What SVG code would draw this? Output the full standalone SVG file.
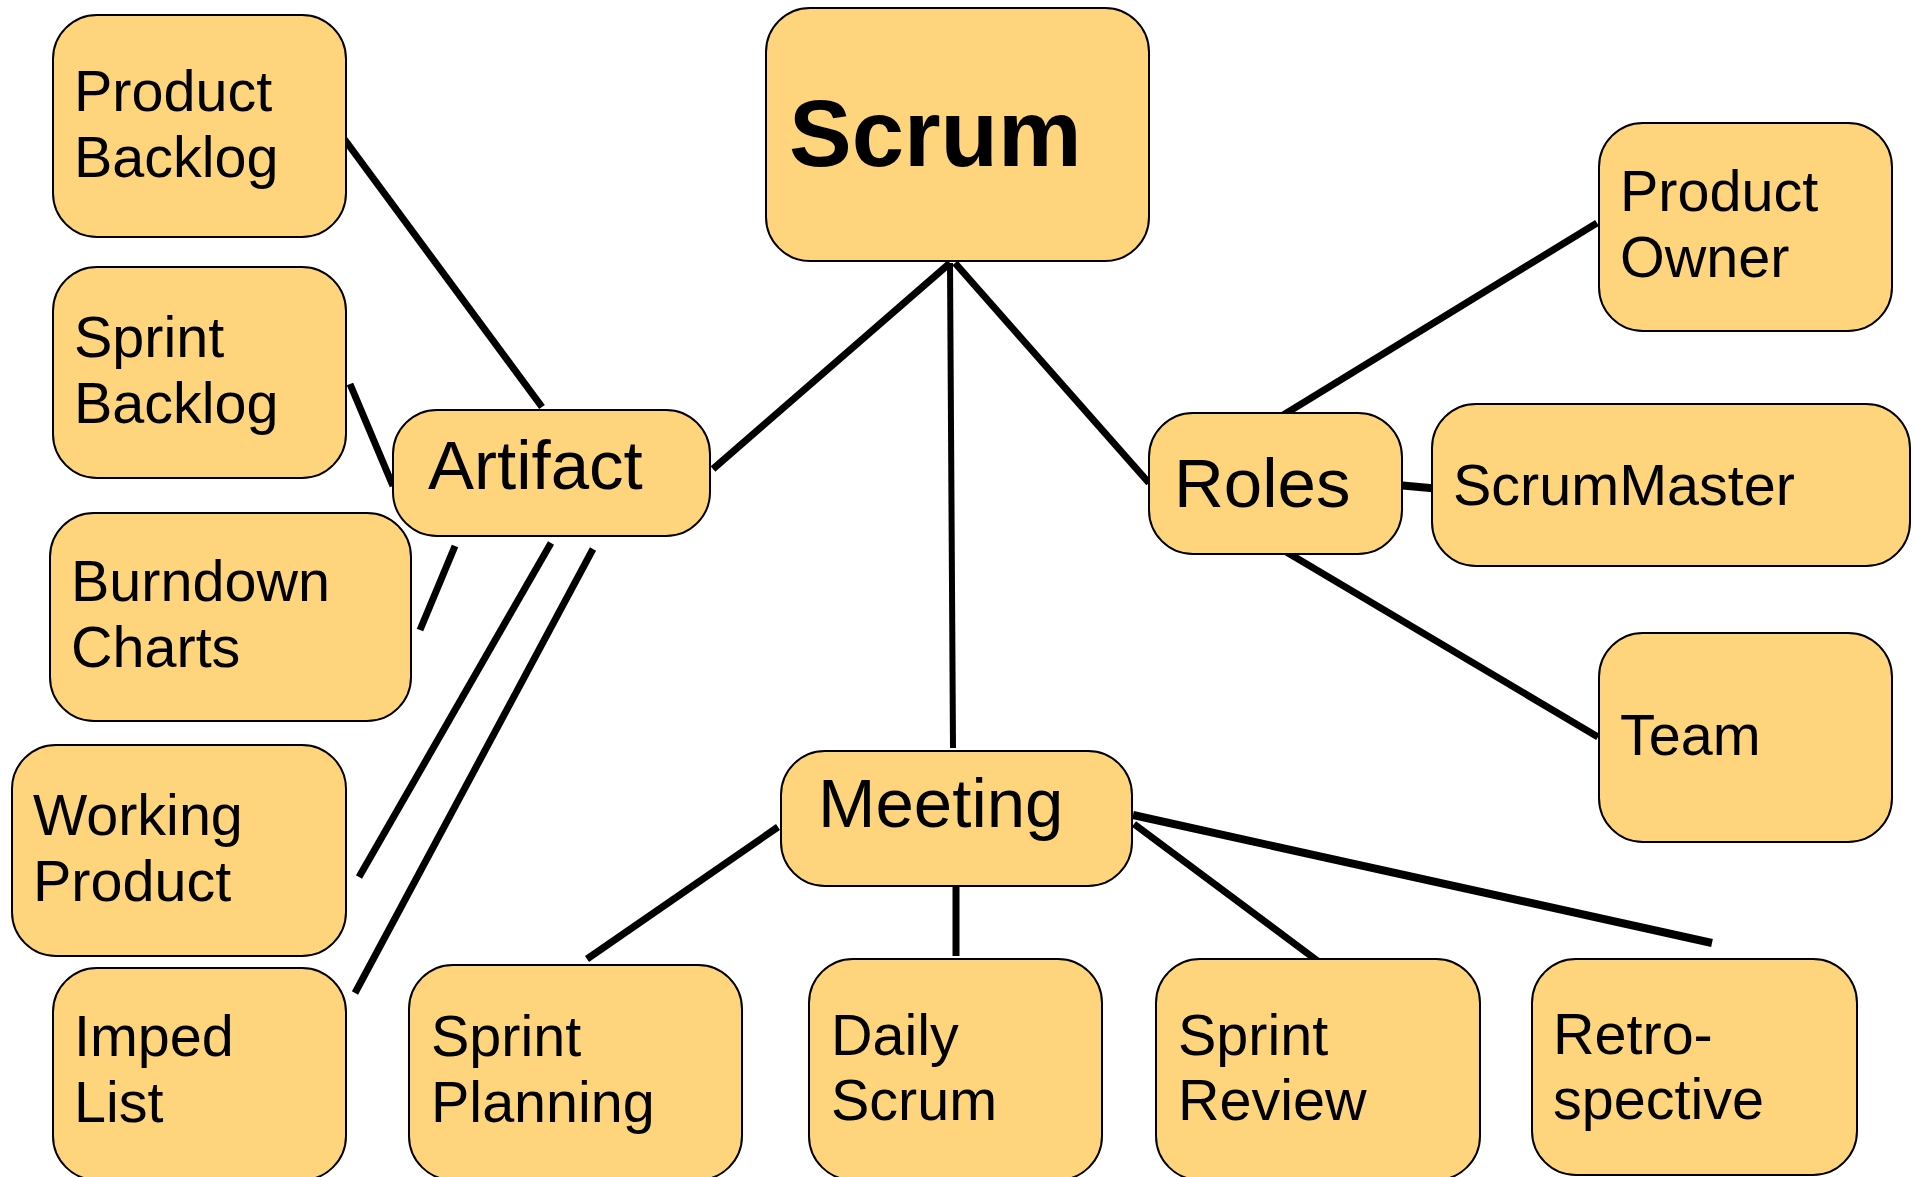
<svg xmlns="http://www.w3.org/2000/svg" width="1915" height="1177" viewBox="0 0 1915 1177">
<style>
.box{fill:#FED47C;stroke:#000;stroke-width:2}
.t{font-family:"Liberation Sans",Arial,sans-serif;font-size:57.5px;fill:#000}
.m{font-size:69px}
.b{font-family:"Liberation Sans",Arial,sans-serif;font-size:94px;font-weight:bold;fill:#000}
.c line{stroke:#000;stroke-width:7;stroke-linecap:butt}
</style>
<rect width="1915" height="1177" fill="#fff"/>
<g class="c" id="connectors">
<line x1="342" y1="136" x2="542" y2="407"/>
<line x1="350" y1="384" x2="393" y2="486"/>
<line x1="713" y1="469" x2="950" y2="263"/>
<line x1="950" y1="263" x2="953" y2="748" style="stroke-width:6"/>
<line x1="955" y1="263" x2="1149" y2="483"/>
<line x1="1280" y1="417" x2="1597" y2="223"/>
<line x1="1397" y1="485" x2="1441" y2="489" style="stroke-width:8"/>
<line x1="1283" y1="550" x2="1598" y2="737"/>
<line x1="455" y1="546" x2="420" y2="630"/>
<line x1="551" y1="543" x2="359" y2="877"/>
<line x1="593" y1="549" x2="355" y2="993"/>
<line x1="778" y1="827" x2="587" y2="959"/>
<line x1="956" y1="886" x2="956" y2="956"/>
<line x1="1134" y1="824" x2="1319" y2="962"/>
<line x1="1133" y1="815" x2="1712" y2="943" style="stroke-width:8"/>
</g>
<g id="scrum"><rect class="box" x="766" y="8" width="383" height="253" rx="44"/><text class="b" x="789" y="166">Scrum</text></g>
<g id="product-backlog"><rect class="box" x="53" y="15" width="293" height="222" rx="44"/><text class="t" x="74" y="111">Product</text><text class="t" x="74" y="177">Backlog</text></g>
<g id="sprint-backlog"><rect class="box" x="53" y="267" width="293" height="211" rx="44"/><text class="t" x="74" y="357">Sprint</text><text class="t" x="74" y="423">Backlog</text></g>
<g id="artifact"><rect class="box" x="393" y="410" width="317" height="126" rx="44"/><text class="t m" x="428" y="489">Artifact</text></g>
<g id="burndown"><rect class="box" x="50" y="513" width="361" height="208" rx="44"/><text class="t" x="71" y="601">Burndown</text><text class="t" x="71" y="667">Charts</text></g>
<g id="working-product"><rect class="box" x="12" y="745" width="334" height="211" rx="44"/><text class="t" x="33" y="835">Working</text><text class="t" x="33" y="901">Product</text></g>
<g id="imped-list"><rect class="box" x="53" y="968" width="293" height="212" rx="44"/><text class="t" x="74" y="1056">Imped</text><text class="t" x="74" y="1122">List</text></g>
<g id="sprint-planning"><rect class="box" x="409" y="965" width="333" height="215" rx="44"/><text class="t" x="431" y="1056">Sprint</text><text class="t" x="431" y="1122">Planning</text></g>
<g id="meeting"><rect class="box" x="781" y="751" width="351" height="135" rx="44"/><text class="t m" x="818" y="827">Meeting</text></g>
<g id="daily-scrum"><rect class="box" x="809" y="959" width="293" height="221" rx="44"/><text class="t" x="831" y="1055">Daily</text><text class="t" x="831" y="1120">Scrum</text></g>
<g id="sprint-review"><rect class="box" x="1156" y="959" width="324" height="221" rx="44"/><text class="t" x="1178" y="1055">Sprint</text><text class="t" x="1178" y="1120">Review</text></g>
<g id="retrospective"><rect class="box" x="1532" y="959" width="325" height="216" rx="44"/><text class="t" x="1553" y="1054">Retro-</text><text class="t" x="1553" y="1119">spective</text></g>
<g id="roles"><rect class="box" x="1149" y="413" width="253" height="141" rx="44"/><text class="t m" x="1174" y="507">Roles</text></g>
<g id="product-owner"><rect class="box" x="1599" y="123" width="293" height="208" rx="44"/><text class="t" x="1620" y="211">Product</text><text class="t" x="1620" y="277">Owner</text></g>
<g id="scrummaster"><rect class="box" x="1432" y="404" width="478" height="162" rx="44"/><text class="t" x="1453" y="505">ScrumMaster</text></g>
<g id="team"><rect class="box" x="1599" y="633" width="293" height="209" rx="44"/><text class="t" x="1620" y="755">Team</text></g>
</svg>
